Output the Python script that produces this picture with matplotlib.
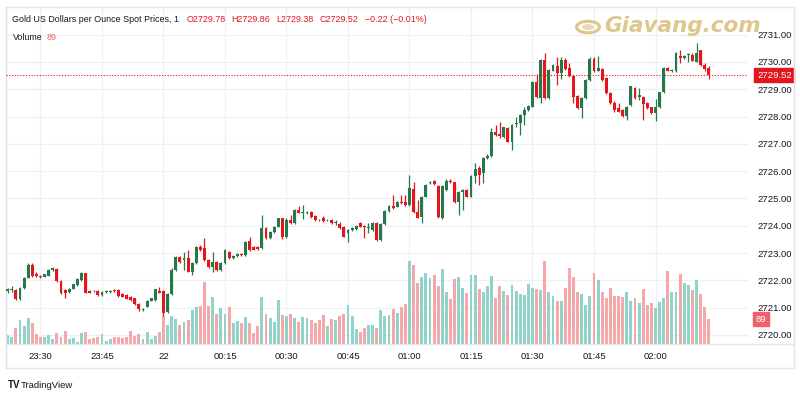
import matplotlib
matplotlib.use('Agg')
import matplotlib.pyplot as plt
import matplotlib.transforms as mtrans
from matplotlib import font_manager
from matplotlib.patches import Rectangle, Circle
from matplotlib.lines import Line2D
import numpy as np
import pandas as pd

names = {f.name for f in font_manager.fontManager.ttflist}
FONT = 'Liberation Sans Narrow' if 'Liberation Sans Narrow' in names else 'Liberation Sans'
plt.rcParams['font.family'] = [FONT, 'DejaVu Sans']

# ---------------- data (1-minute candles, 23:22 -> 02:13) ----------------
start_time = '2024-11-21 23:22'
opens = [
2721.62, 2721.66, 2721.65, 2721.31, 2721.71, 2722.10, 2722.55, 2722.24,
2722.16, 2722.14, 2722.17, 2722.38, 2722.42, 2721.98, 2721.65, 2721.56, 2721.70, 2721.83,
2722.01, 2722.26, 2721.62, 2721.61, 2721.62, 2721.46, 2721.58, 2721.57, 2721.63, 2721.65,
2721.49, 2721.47, 2721.38, 2721.34, 2721.14, 2720.90, 2721.04, 2721.26, 2721.28, 2721.61,
2721.61, 2720.85, 2721.50, 2722.38, 2722.87, 2722.75, 2722.83, 2722.32, 2722.63, 2723.23,
2723.17, 2722.75, 2722.50, 2722.66, 2722.38, 2722.63, 2723.05, 2722.83, 2722.90, 2722.96,
2722.93, 2723.44, 2723.22, 2723.24, 2723.17, 2723.91, 2723.54, 2723.78, 2723.97, 2724.27,
2723.60, 2724.21, 2724.10, 2724.58, 2724.46, 2724.45, 2724.50, 2724.35, 2724.22, 2724.27,
2724.20, 2724.21, 2724.09, 2724.07, 2723.95, 2723.72, 2723.85, 2723.87, 2724.09, 2723.99,
2723.92, 2723.85, 2724.11, 2723.48, 2724.07, 2724.54, 2724.73, 2724.70, 2724.88, 2724.86,
2724.76, 2725.34, 2724.50, 2724.33, 2725.07, 2725.56, 2725.64, 2725.46, 2724.27, 2725.31,
2725.65, 2725.59, 2724.88, 2725.25, 2725.31, 2725.07, 2725.82, 2726.10, 2725.92, 2726.47,
2726.55, 2727.45, 2727.35, 2727.26, 2727.57, 2727.08, 2727.72, 2727.75, 2728.06, 2728.24,
2728.36, 2729.25, 2728.67, 2730.07, 2728.67, 2729.68, 2729.85, 2729.59, 2730.07, 2729.77,
2729.49, 2728.75, 2728.30, 2728.67, 2729.34, 2730.10, 2729.68, 2729.73, 2729.40, 2728.85,
2728.49, 2728.30, 2728.24, 2728.02, 2728.42, 2729.04, 2728.73, 2728.71, 2728.49, 2728.33,
2728.14, 2728.33, 2728.88, 2729.77, 2729.68, 2729.65, 2730.22, 2730.13, 2730.26, 2730.26,
2730.01, 2730.42, 2729.89, 2729.78]
highs = [
2721.72, 2721.79, 2721.68, 2721.74, 2722.14, 2722.65, 2722.63, 2722.30,
2722.20, 2722.25, 2722.41, 2722.48, 2722.45, 2722.01, 2721.68, 2721.72, 2721.88, 2722.07,
2722.30, 2722.28, 2721.65, 2721.66, 2721.64, 2721.60, 2721.63, 2721.65, 2721.69, 2721.68,
2721.52, 2721.50, 2721.41, 2721.37, 2721.16, 2720.98, 2721.29, 2721.37, 2721.70, 2721.75,
2721.64, 2721.53, 2722.45, 2722.90, 2722.90, 2723.05, 2723.11, 2722.66, 2723.26, 2723.29,
2723.56, 2722.78, 2723.05, 2722.70, 2722.66, 2723.14, 2723.08, 2722.93, 2722.99, 2722.99,
2723.45, 2723.60, 2723.25, 2723.27, 2724.40, 2723.94, 2723.81, 2724.00, 2724.30, 2724.30,
2724.28, 2724.40, 2724.63, 2724.73, 2724.75, 2724.55, 2724.55, 2724.38, 2724.25, 2724.36,
2724.24, 2724.24, 2724.21, 2724.15, 2723.98, 2723.88, 2723.94, 2724.03, 2724.15, 2724.02,
2724.11, 2724.12, 2724.14, 2724.10, 2724.57, 2724.76, 2725.13, 2724.91, 2725.13, 2725.13,
2725.86, 2725.62, 2724.95, 2725.10, 2725.52, 2725.65, 2725.67, 2725.49, 2725.49, 2725.70,
2725.70, 2725.62, 2725.28, 2725.34, 2725.34, 2725.85, 2726.29, 2726.17, 2726.50, 2726.62,
2727.57, 2727.69, 2727.81, 2727.63, 2727.60, 2727.72, 2728.00, 2728.09, 2728.36, 2728.43,
2729.31, 2729.55, 2730.10, 2730.34, 2729.75, 2729.92, 2730.19, 2730.19, 2730.13, 2729.95,
2729.52, 2728.78, 2728.70, 2729.37, 2730.19, 2730.19, 2730.22, 2729.76, 2729.46, 2728.88,
2728.55, 2728.49, 2728.27, 2728.39, 2729.13, 2729.07, 2729.04, 2728.74, 2728.52, 2728.36,
2728.63, 2728.91, 2729.80, 2729.80, 2729.74, 2730.37, 2730.44, 2730.25, 2730.32, 2730.32,
2730.68, 2730.45, 2729.95, 2729.86]
lows = [
2721.55, 2721.58, 2721.28, 2721.28, 2721.68, 2722.07, 2722.12, 2722.12,
2722.10, 2722.11, 2722.15, 2722.35, 2721.95, 2721.49, 2721.34, 2721.52, 2721.67, 2721.80,
2721.98, 2721.52, 2721.52, 2721.56, 2721.43, 2721.43, 2721.55, 2721.55, 2721.58, 2721.40,
2721.38, 2721.30, 2721.25, 2721.11, 2720.89, 2720.87, 2721.01, 2721.23, 2721.25, 2721.52,
2720.70, 2720.80, 2721.45, 2722.35, 2722.63, 2722.38, 2722.29, 2722.20, 2722.60, 2723.08,
2722.72, 2722.47, 2722.30, 2722.35, 2722.35, 2722.60, 2722.78, 2722.80, 2722.87, 2722.90,
2722.90, 2723.08, 2723.10, 2723.12, 2723.14, 2723.51, 2723.51, 2723.75, 2723.94, 2723.52,
2723.55, 2724.05, 2724.07, 2724.45, 2724.23, 2724.42, 2724.30, 2724.17, 2724.17, 2724.14,
2724.16, 2724.06, 2724.03, 2723.87, 2723.57, 2723.42, 2723.82, 2723.84, 2723.94, 2723.56,
2723.72, 2723.82, 2723.45, 2723.45, 2724.04, 2724.51, 2724.61, 2724.67, 2724.79, 2724.73,
2724.73, 2724.47, 2724.27, 2724.09, 2725.04, 2725.53, 2725.49, 2724.30, 2724.24, 2725.28,
2725.56, 2724.85, 2724.40, 2724.58, 2725.04, 2725.04, 2725.56, 2725.49, 2725.56, 2726.44,
2726.52, 2727.30, 2727.20, 2727.23, 2727.05, 2726.78, 2727.63, 2727.33, 2727.69, 2728.21,
2728.33, 2728.67, 2728.49, 2728.64, 2728.64, 2729.65, 2729.16, 2729.37, 2729.70, 2729.46,
2728.49, 2728.27, 2727.94, 2728.64, 2729.31, 2729.62, 2729.65, 2729.29, 2728.82, 2728.46,
2728.18, 2728.15, 2727.99, 2727.88, 2728.39, 2728.64, 2728.61, 2727.88, 2728.27, 2728.11,
2727.85, 2728.30, 2728.85, 2729.65, 2729.63, 2729.62, 2729.95, 2730.10, 2730.01, 2730.02,
2729.98, 2729.86, 2729.65, 2729.38]
closes = [
2721.67, 2721.68, 2721.33, 2721.71, 2722.10, 2722.56, 2722.17, 2722.16,
2722.14, 2722.22, 2722.38, 2722.44, 2721.98, 2721.53, 2721.55, 2721.70, 2721.85, 2722.04,
2722.26, 2721.55, 2721.55, 2721.60, 2721.46, 2721.58, 2721.60, 2721.62, 2721.60, 2721.42,
2721.40, 2721.33, 2721.28, 2721.14, 2720.94, 2720.95, 2721.26, 2721.34, 2721.67, 2721.55,
2720.82, 2721.50, 2722.38, 2722.87, 2722.66, 2722.81, 2722.32, 2722.63, 2723.23, 2723.11,
2722.75, 2722.50, 2722.68, 2722.38, 2722.63, 2723.11, 2722.81, 2722.90, 2722.96, 2722.93,
2723.42, 2723.11, 2723.12, 2723.15, 2723.91, 2723.54, 2723.78, 2723.97, 2724.27, 2723.60,
2724.21, 2724.10, 2724.58, 2724.48, 2724.49, 2724.50, 2724.33, 2724.20, 2724.20, 2724.17,
2724.21, 2724.09, 2724.12, 2723.90, 2723.60, 2723.85, 2723.91, 2724.00, 2723.97, 2723.95,
2723.95, 2724.09, 2723.48, 2724.07, 2724.54, 2724.73, 2724.64, 2724.88, 2724.82, 2724.76,
2725.37, 2724.50, 2724.30, 2725.07, 2725.49, 2725.62, 2725.52, 2724.33, 2725.46, 2725.65,
2725.59, 2724.88, 2725.25, 2725.31, 2725.07, 2725.82, 2726.07, 2725.86, 2726.47, 2726.56,
2727.45, 2727.33, 2727.30, 2727.60, 2727.08, 2727.69, 2727.75, 2728.06, 2728.24, 2728.40,
2729.28, 2728.73, 2730.07, 2728.67, 2729.72, 2729.89, 2729.61, 2730.07, 2729.73, 2729.49,
2728.73, 2728.30, 2728.67, 2729.34, 2730.10, 2729.65, 2729.77, 2729.32, 2728.85, 2728.49,
2728.24, 2728.18, 2728.02, 2728.36, 2729.10, 2728.67, 2728.79, 2728.46, 2728.30, 2728.14,
2728.36, 2728.88, 2729.77, 2729.68, 2729.70, 2730.34, 2730.13, 2730.22, 2730.29, 2730.05,
2730.34, 2729.89, 2729.74, 2729.52]
volumes = [
32, 26, 57, 86, 65, 92, 75, 36,
26, 26, 33, 18, 38, 24, 48, 17, 21, 8,
38, 42, 18, 21, 24, 36, 10, 18, 24, 24,
21, 26, 45, 30, 36, 18, 42, 18, 30, 42,
101, 69, 98, 89, 67, 77, 85, 121, 133, 137,
220, 137, 169, 107, 127, 107, 131, 76, 81, 74,
97, 76, 40, 65, 169, 107, 93, 77, 158, 104,
101, 107, 93, 77, 95, 93, 85, 74, 87, 103,
65, 89, 87, 100, 107, 139, 101, 53, 43, 57,
68, 68, 57, 121, 101, 104, 123, 112, 133, 142,
294, 283, 216, 237, 253, 235, 247, 208, 266, 186,
161, 231, 240, 199, 180, 247, 245, 197, 184, 205,
243, 163, 205, 190, 176, 211, 190, 178, 175, 215,
199, 197, 194, 294, 186, 172, 152, 152, 199, 269,
237, 186, 178, 140, 172, 254, 228, 184, 163, 199,
171, 171, 169, 186, 152, 163, 147, 196, 140, 147,
129, 150, 165, 259, 186, 186, 250, 216, 211, 192,
228, 178, 133, 89]

tick_times = ['2024-11-21 23:30', '2024-11-21 23:45', '2024-11-22 00:00', '2024-11-22 00:15',
              '2024-11-22 00:30', '2024-11-22 00:45', '2024-11-22 01:00', '2024-11-22 01:15',
              '2024-11-22 01:30', '2024-11-22 01:45', '2024-11-22 02:00']
tick_labels = ['23:30', '23:45', '22', '00:15', '00:30', '00:45', '01:00', '01:15',
               '01:30', '01:45', '02:00']
price_ticks = [2720, 2721, 2722, 2723, 2724, 2725, 2726, 2727, 2728, 2729, 2730, 2731]
title = 'Gold US Dollars per Ounce Spot Prices, 1'

# ---------------- derived ----------------
o = np.array(opens); h = np.array(highs); l = np.array(lows); c = np.array(closes)
v = np.array(volumes)
ref = pd.Timestamp(tick_times[0])
times = pd.date_range(start_time, periods=len(o), freq='min')
xs = ((times - ref).total_seconds() / 60).values
tx = [(pd.Timestamp(t) - ref).total_seconds() / 60 for t in tick_times]
up = c >= o

GREEN = '#23794c'
RED = '#e3151d'
VGREEN = '#92d3c9'
VRED = '#f5a8aa'
VLBL = '#f0616d'
TXT = '#131722'
GRID = '#eef0f3'
BORDER = '#e0e3eb'
FS_AX = 6.8
FS_HDR = 6.4

W, H = 800, 400
fig = plt.figure(figsize=(8, 4), dpi=100)
fig.patch.set_facecolor('white')

def rect(x0, y0, x1, y1):
    return [x0 / W, 1 - y1 / H, (x1 - x0) / W, (y1 - y0) / H]

R = rect(6, 7, 748, 344)
ax_g = fig.add_axes(R)
ax_v = fig.add_axes(R, sharex=ax_g)
ax_p = fig.add_axes(R, sharex=ax_g, sharey=ax_g)
ax_g.set_zorder(0); ax_v.set_zorder(1); ax_p.set_zorder(2)
ax_v.patch.set_visible(False); ax_p.patch.set_visible(False)
ax_v.axis('off'); ax_p.axis('off')

ax_g.set_xlim(-8.41, 172.56)
ax_g.set_ylim(2719.67, 2732.01)
ax_g.set_yticks(price_ticks)
ax_g.set_yticklabels([f'{p:.2f}' for p in price_ticks])
ax_g.yaxis.tick_right()
ax_g.set_xticks(tx)
ax_g.set_xticklabels(tick_labels)
ax_g.tick_params(axis='y', length=0, pad=6.5, labelsize=FS_AX, labelcolor=TXT)
ax_g.tick_params(axis='x', length=0, pad=6, labelsize=FS_AX, labelcolor=TXT)
ax_g.grid(True, color=GRID, lw=0.9)
for s in ax_g.spines.values():
    s.set_visible(False)

# volume
ax_v.bar(xs, v, width=0.72, color=np.where(up, VGREEN, VRED), linewidth=0)
ax_v.set_ylim(0, 1200)

# candles
col = np.where(up, GREEN, RED)
ax_p.vlines(xs, l, h, colors=col, lw=0.9)
body_lo = np.minimum(o, c)
body_h = np.maximum(np.abs(c - o), 0.025)
ax_p.bar(xs, body_h, bottom=body_lo, width=0.72, color=col, linewidth=0)

# last price line
last = closes[-1]
ax_p.axhline(last, color=RED, lw=0.8, ls=(0, (1, 1.5)))

# right-axis labels
bt = mtrans.blended_transform_factory(ax_g.transAxes, ax_g.transData)
ax_g.text(1.0 + 9 / 742, last, f'{last:.2f}', transform=bt, ha='left', va='center',
          fontsize=FS_AX, color='white', zorder=5,
          bbox=dict(boxstyle='square,pad=0.28', fc=RED, ec=RED), clip_on=False)
btv = mtrans.blended_transform_factory(ax_v.transAxes, ax_v.transData)
ax_v.text(1.0 + 8 / 742, volumes[-1], f'{volumes[-1]}', transform=btv, ha='left', va='center',
          fontsize=FS_AX, color='white', zorder=5,
          bbox=dict(boxstyle='square,pad=0.28', fc=VLBL, ec=VLBL), clip_on=False)

# header (sequential pieces)
renderer = fig.canvas.get_renderer()

def seq(pieces, x0, y, gap):
    xpix = x0
    for s, colr, g in pieces:
        xpix += g
        t = fig.text(xpix / W, 1 - y / H, s, fontsize=FS_HDR, color=colr, va='center', ha='left')
        bb = t.get_window_extent(renderer=renderer)
        xpix = bb.x1

chg = closes[-1] - closes[-2]
pct = chg / closes[-2] * 100
seq([(title, TXT, 0),
     (f'O{opens[-1]:.2f}', RED, 7), (f'H{highs[-1]:.2f}', RED, 6),
     (f'L{lows[-1]:.2f}', RED, 6), (f'C{closes[-1]:.2f}', RED, 6),
     (f'\u2212{abs(chg):.2f} (\u2212{abs(pct):.2f}%)', RED, 6)], 12.5, 20, 0)
seq([('Volume', TXT, 0), (f'{volumes[-1]}', VLBL, 4)], 12.5, 37, 0)

# watermark logo
GOLD = '#d8bd78'
fig.patches.append(Circle((588 / W, 1 - 27 / H), 11.5 / W, transform=fig.transFigure,
                          fc='none', ec=GOLD, lw=2.2, alpha=0.85))
fig.patches.append(Circle((588 / W, 1 - 27 / H), 6 / W, transform=fig.transFigure,
                          fc=GOLD, ec='none', alpha=0.55))
fig.text(604 / W, 1 - 26 / H, 'Giavang.com', fontsize=15.5, fontweight='bold', style='italic',
         family='DejaVu Sans', color=GOLD, alpha=0.85, va='center', ha='left')

# frame and time-axis border
fig.patches.append(Rectangle((6 / W, 1 - 368 / H), 788 / W, 361 / H, transform=fig.transFigure,
                             fc='none', ec=BORDER, lw=1))
fig.lines.append(Line2D([6 / W, 794 / W], [1 - 344 / H, 1 - 344 / H], transform=fig.transFigure,
                        color=BORDER, lw=1))

# TradingView mark
fig.text(8 / W, 1 - 385 / H, 'TV', fontsize=7, fontweight='bold', color=TXT, va='center', ha='left')
fig.text(21 / W, 1 - 385 / H, 'TradingView', fontsize=6.8, color=TXT, va='center', ha='left')

fig.savefig('out.png', dpi=100)
